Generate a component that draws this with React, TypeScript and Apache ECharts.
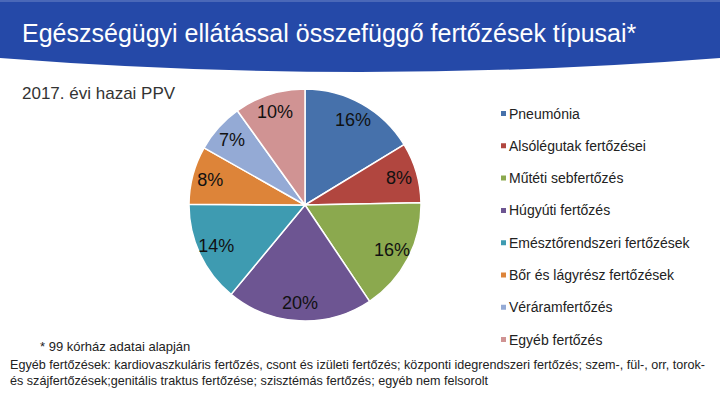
import React, { useEffect, useRef } from "react";
import * as echarts from "echarts";

const categories = [
  "Pneumónia",
  "Alsólégutak fertőzései",
  "Műtéti sebfertőzés",
  "Húgyúti fertőzés",
  "Emésztőrendszeri fertőzések",
  "Bőr és lágyrész fertőzések",
  "Véráramfertőzés",
  "Egyéb fertőzés",
];
const values = [16.3, 8.4, 15.9, 20.4, 14.1, 8.1, 6.9, 9.9];
const colors = ["#4671AB", "#B1463F", "#8BA94E", "#6D5592", "#3E9BB1", "#DD8439", "#94AAD5", "#D09393"];

const title = "Egészségügyi ellátással összefüggő fertőzések típusai*";
const subtitle = "2017. évi hazai PPV";
const footnote = "* 99 kórház adatai alapján";
const noteLine1 =
  "Egyéb fertőzések: kardiovaszkuláris fertőzés, csont és izületi fertőzés; központi idegrendszeri fertőzés; szem-, fül-, orr, torok-";
const noteLine2 = "és szájfertőzések;genitális traktus fertőzése; szisztémás fertőzés; egyéb nem felsorolt";

echarts.graphic.registerShape(
  "titlebar",
  echarts.graphic.extendPath("M0 0 L720 0 L720 58 Q360 86 0 58 Z", {})
);

const FONT = "Liberation Sans, Arial, sans-serif";

export default function App() {
  const ref = useRef<HTMLDivElement>(null);
  useEffect(() => {
    if (!ref.current) return;
    const chart = echarts.init(ref.current, null, { renderer: "svg" });
    const data = categories.map((name, i) => ({
      name,
      value: values[i],
      itemStyle: { color: colors[i] },
    }));
    chart.setOption({
      animation: false,
      backgroundColor: "#ffffff",
      textStyle: { fontFamily: FONT },
      legend: {
        orient: "vertical",
        left: 494,
        top: 101,
        itemWidth: 7,
        itemHeight: 7,
        itemGap: 17.3,
        icon: "rect",
        selectedMode: false,
        data: categories,
        textStyle: { fontSize: 14, color: "#222", lineHeight: 15, padding: [0, 0, 0, -3] },
      },
      graphic: [
        { type: "titlebar", x: 0, y: 0, style: { fill: "#2549A8" }, z: 10 },
        { type: "rect", shape: { x: 0, y: 0, width: 720, height: 2 }, style: { fill: "#4A68B8" }, z: 11 },
        {
          type: "text",
          x: 22,
          y: 33,
          z: 12,
          style: { text: title, fill: "#ffffff", font: "25px " + FONT, verticalAlign: "middle" },
        },
        {
          type: "text",
          x: 22,
          y: 93,
          style: { text: subtitle, fill: "#333", font: "17px " + FONT, verticalAlign: "middle" },
        },
        {
          type: "text",
          x: 40,
          y: 346,
          style: { text: footnote, fill: "#222", font: "13px " + FONT, verticalAlign: "middle" },
        },
        {
          type: "text",
          x: 10,
          y: 365,
          style: { text: noteLine1, fill: "#222", font: "12.6px " + FONT, verticalAlign: "middle" },
        },
        {
          type: "text",
          x: 10,
          y: 381,
          style: { text: noteLine2, fill: "#222", font: "12.6px " + FONT, verticalAlign: "middle" },
        },
      ],
      series: [
        {
          type: "pie",
          center: [305, 205],
          radius: [0, 116],
          startAngle: 90,
          clockwise: true,
          silent: true,
          label: { show: false },
          labelLine: { show: false },
          itemStyle: { borderColor: "#ffffff", borderWidth: 1.5 },
          data,
        },
        {
          type: "pie",
          center: [305, 205],
          radius: [74, 116],
          startAngle: 90,
          clockwise: true,
          silent: true,
          legendHoverLink: false,
          itemStyle: { color: "rgba(0,0,0,0)", borderWidth: 0 },
          label: {
            show: true,
            position: "inside",
            formatter: (p: any) => Math.round(p.value) + "%",
            fontSize: 18,
            color: "#111",
          },
          labelLine: { show: false },
          data: categories.map((name, i) => ({ name: name + " ", value: values[i] })),
        },
      ],
    });
    return () => chart.dispose();
  }, []);
  return <div ref={ref} style={{ position: "fixed", left: 0, top: 0, width: 720, height: 405 }} />;
}
